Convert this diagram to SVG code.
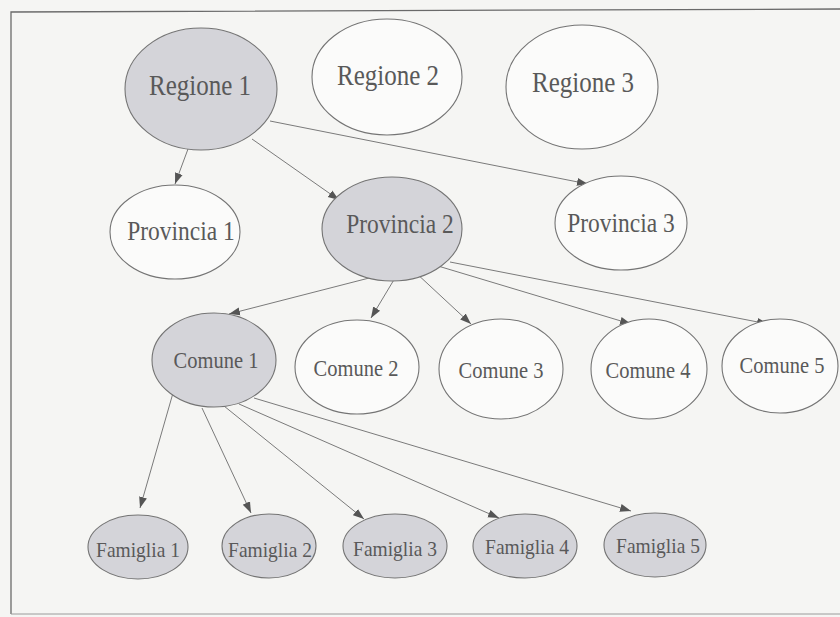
<svg xmlns="http://www.w3.org/2000/svg" width="840" height="617" viewBox="0 0 840 617">
<style>
.bg{fill:#f5f5f3}
.frame{fill:none;stroke:#6a6a6a;stroke-width:1.3}
.frame2{fill:none;stroke:#9a9a9a;stroke-width:1}
.n{stroke:#747474;stroke-width:1.1}
.w{fill:#fbfbfa}
.g{fill:#d4d4d9}
.t{font-family:"Liberation Serif","Times New Roman",serif;fill:#595959;text-anchor:middle}
.r{font-size:25px}
.p{font-size:23.5px}
.c{font-size:20.5px}
.f{font-size:19.5px}
.e{fill:none;stroke:#7a7a7a;stroke-width:1;marker-end:url(#ah)}
</style>
<defs>
<marker id="ah" markerUnits="userSpaceOnUse" markerWidth="12" markerHeight="10" refX="11" refY="4" orient="auto" viewBox="0 0 12 8">
<path d="M0,0 L11,4 L0,8 z" fill="#555"/>
</marker>
</defs>
<rect class="bg" x="0" y="0" width="840" height="617"/>
<path class="frame" d="M840,9 L11,12 L11,614"/>
<path class="frame2" d="M11,614 L840,614"/>
<g id="connectors">
<line class="e" x1="188" y1="149" x2="175" y2="184"/>
<line class="e" x1="252" y1="139" x2="339" y2="200"/>
<line class="e" x1="270" y1="121" x2="588" y2="184"/>
<line class="e" x1="373" y1="277" x2="229" y2="314"/>
<line class="e" x1="395" y1="278" x2="371" y2="318"/>
<line class="e" x1="415" y1="272" x2="471" y2="324"/>
<line class="e" x1="438" y1="266" x2="631" y2="324"/>
<line class="e" x1="450" y1="262" x2="768" y2="324"/>
<line class="e" x1="173" y1="393" x2="140" y2="508"/>
<line class="e" x1="202" y1="408" x2="251" y2="513"/>
<line class="e" x1="224" y1="406" x2="364" y2="519"/>
<line class="e" x1="239" y1="404" x2="499" y2="518"/>
<line class="e" x1="254" y1="398" x2="631" y2="511"/>
</g>
<g id="regione1"><ellipse class="n g" cx="201" cy="89" rx="76" ry="61"/><text class="t r" transform="translate(200,95) scale(1,1.15)">Regione 1</text></g>
<g id="regione2"><ellipse class="n w" cx="387" cy="77" rx="75" ry="58"/><text class="t r" transform="translate(388,85) scale(1,1.15)">Regione 2</text></g>
<g id="regione3"><ellipse class="n w" cx="582" cy="87" rx="76" ry="62"/><text class="t r" transform="translate(583,92) scale(1,1.15)">Regione 3</text></g>
<g id="provincia1"><ellipse class="n w" cx="175" cy="232" rx="65" ry="47"/><text class="t p" transform="translate(181,240) scale(1,1.12)">Provincia 1</text></g>
<g id="provincia2"><ellipse class="n g" cx="392" cy="229" rx="70" ry="52"/><text class="t p" transform="translate(400,233) scale(1,1.12)">Provincia 2</text></g>
<g id="provincia3"><ellipse class="n w" cx="621" cy="223" rx="66" ry="47"/><text class="t p" transform="translate(621,232) scale(1,1.12)">Provincia 3</text></g>
<g id="comune1"><ellipse class="n g" cx="214" cy="360" rx="62" ry="47"/><text class="t c" transform="translate(216,368) scale(1,1.1)">Comune 1</text></g>
<g id="comune2"><ellipse class="n w" cx="357" cy="367" rx="62" ry="47"/><text class="t c" transform="translate(356,376) scale(1,1.1)">Comune 2</text></g>
<g id="comune3"><ellipse class="n w" cx="501" cy="369" rx="62" ry="50"/><text class="t c" transform="translate(501,378) scale(1,1.1)">Comune 3</text></g>
<g id="comune4"><ellipse class="n w" cx="649" cy="369" rx="58" ry="50"/><text class="t c" transform="translate(648,378) scale(1,1.1)">Comune 4</text></g>
<g id="comune5"><ellipse class="n w" cx="780" cy="366" rx="58" ry="47"/><text class="t c" transform="translate(782,373) scale(1,1.1)">Comune 5</text></g>
<g id="famiglia1"><ellipse class="n g" cx="138" cy="547" rx="50" ry="32"/><text class="t f" transform="translate(138,557) scale(1,1.1)">Famiglia 1</text></g>
<g id="famiglia2"><ellipse class="n g" cx="269" cy="546" rx="47" ry="32"/><text class="t f" transform="translate(270,557) scale(1,1.1)">Famiglia 2</text></g>
<g id="famiglia3"><ellipse class="n g" cx="395" cy="546" rx="52" ry="32"/><text class="t f" transform="translate(395,556) scale(1,1.1)">Famiglia 3</text></g>
<g id="famiglia4"><ellipse class="n g" cx="525" cy="546" rx="52" ry="32"/><text class="t f" transform="translate(527,554) scale(1,1.1)">Famiglia 4</text></g>
<g id="famiglia5"><ellipse class="n g" cx="655" cy="545" rx="51" ry="32"/><text class="t f" transform="translate(658,553) scale(1,1.1)">Famiglia 5</text></g>
</svg>
